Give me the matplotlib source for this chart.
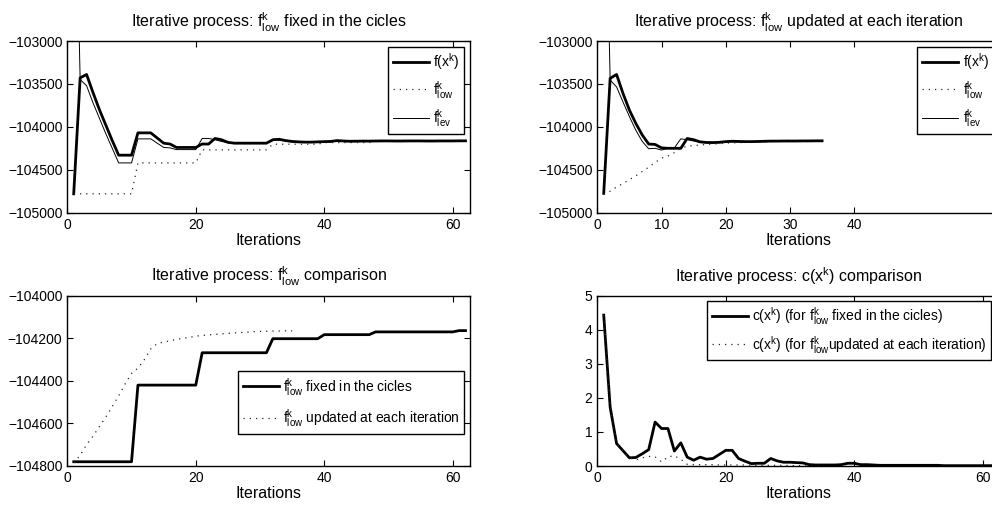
import matplotlib
matplotlib.use("Agg")
import matplotlib.pyplot as plt
import numpy as np

plt.rcParams['font.family'] = ['Liberation Sans', 'DejaVu Sans']
plt.rcParams['mathtext.fontset'] = 'custom'
plt.rcParams['mathtext.rm'] = 'Liberation Sans'
plt.rcParams['mathtext.it'] = 'Liberation Sans'

# --- data ---
it_fixed = np.arange(1, 63)
it_upd = np.arange(1, 36)

f_fixed = [-104780, -103430, -103390, -103600, -103800, -103980, -104160, -104330, -104330, -104330,
           -104070, -104070, -104070, -104130, -104190, -104200, -104240, -104240, -104240, -104240,
           -104200, -104200, -104135, -104150, -104180, -104190, -104190, -104190, -104190, -104190,
           -104190, -104150, -104145, -104160, -104170, -104175, -104178, -104178, -104175, -104172,
           -104170, -104160, -104165, -104168, -104167, -104166, -104166, -104165, -104164, -104164,
           -104165, -104165, -104164, -104164, -104164, -104165, -104165, -104164, -104164, -104164,
           -104163, -104163]
flev_fixed = [-100000, -103450, -103520, -103720, -103900, -104080, -104250, -104420, -104420, -104420,
              -104140, -104140, -104140, -104190, -104240, -104245, -104265, -104265, -104265, -104265,
              -104135, -104135, -104150, -104170, -104185, -104195, -104195, -104195, -104195, -104195,
              -104195, -104160, -104155, -104165, -104175, -104180, -104182, -104182, -104180, -104177,
              -104175, -104165, -104170, -104172, -104171, -104170, -104170, -104168, -104167, -104167,
              -104168, -104168, -104167, -104167, -104167, -104168, -104168, -104167, -104167, -104167,
              -104166, -104166]
flow_fixed = [-104780] * 10 + [-104420] * 10 + [-104268] * 11 + [-104202] * 8 + \
             [-104183] * 8 + [-104170] * 13 + [-104164] * 2

f_upd = [-104775, -103435, -103390, -103610, -103805, -103960, -104095, -104200, -104205, -104245,
         -104250, -104250, -104250, -104135, -104150, -104175, -104182, -104183, -104180, -104172,
         -104168, -104170, -104172, -104172, -104170, -104168, -104166, -104166, -104165, -104165,
         -104165, -104164, -104164, -104163, -104163]
flev_upd = [-100000, -103455, -103535, -103710, -103880, -104040, -104170, -104255, -104250, -104270,
            -104250, -104245, -104140, -104150, -104165, -104180, -104185, -104187, -104184, -104177,
            -104173, -104174, -104176, -104176, -104174, -104172, -104170, -104170, -104169, -104169,
            -104169, -104168, -104168, -104167, -104167]
flow_upd = [-104785, -104750, -104700, -104660, -104615, -104570, -104520, -104470, -104415, -104365,
            -104340, -104300, -104250, -104225, -104218, -104212, -104205, -104200, -104196, -104190,
            -104187, -104184, -104182, -104179, -104177, -104175, -104173, -104171, -104169, -104168,
            -104167, -104166, -104166, -104165, -104165]

c_fixed = [4.43, 1.73, 0.66, 0.45, 0.24, 0.25, 0.36, 0.48, 1.29, 1.10,
           1.10, 0.44, 0.68, 0.26, 0.17, 0.26, 0.20, 0.22, 0.34, 0.46,
           0.46, 0.22, 0.14, 0.07, 0.08, 0.08, 0.22, 0.15, 0.11, 0.11,
           0.10, 0.09, 0.04, 0.03, 0.03, 0.03, 0.03, 0.04, 0.08, 0.08,
           0.04, 0.04, 0.03, 0.02, 0.02, 0.02, 0.02, 0.02, 0.02, 0.02,
           0.02, 0.02, 0.02, 0.01, 0.01, 0.01, 0.01, 0.01, 0.01, 0.01,
           0.01, 0.01]
c_upd = [4.43, 1.73, 0.66, 0.45, 0.24, 0.18, 0.24, 0.28, 0.27, 0.12,
         0.27, 0.30, 0.20, 0.05, 0.04, 0.04, 0.04, 0.04, 0.03, 0.03,
         0.03, 0.03, 0.03, 0.02, 0.02, 0.02, 0.02, 0.02, 0.02, 0.01,
         0.01, 0.01, 0.01, 0.01, 0.01]

# --- styles ---
thick = dict(color='black', lw=2.0)
thin = dict(color='black', lw=0.7)
dotted = dict(color='0.15', lw=0.9, linestyle=(0, (1, 4)))

FLOW = r'f$^\mathrm{k}_\mathrm{low}$'
FLEV = r'f$^\mathrm{k}_\mathrm{lev}$'
FX = r'f(x$^\mathrm{k}$)'
CX = r'c(x$^\mathrm{k}$)'


def style_axes(ax):
    ax.tick_params(direction='in', top=True, right=True, length=4, labelsize=10, width=0.8)
    for s in ax.spines.values():
        s.set_linewidth(1.0)
    ax.set_xlabel('Iterations', fontsize=11.5, labelpad=1)


def legend(ax, spacing=0.3, **kw):
    lg = ax.legend(fontsize=10, fancybox=False, framealpha=1, edgecolor='black',
                   handlelength=2.6, handletextpad=0.3, borderpad=0.35, labelspacing=spacing,
                   borderaxespad=0, **kw)
    lg.get_frame().set_linewidth(1.0)
    return lg


fig = plt.figure(figsize=(9.92, 5.08), dpi=100)
W, H = 992.0, 508.0
aw = 402.7 / W

ax1 = fig.add_axes([67.3 / W, (H - 212.7) / H, aw, 171.7 / H])
ax2 = fig.add_axes([597.3 / W, (H - 212.7) / H, aw, 171.7 / H])
ax3 = fig.add_axes([67.3 / W, (H - 466.0) / H, aw, 170.3 / H])
ax4 = fig.add_axes([597.3 / W, (H - 466.0) / H, aw, 170.3 / H])

# top left
ax1.plot(it_fixed, f_fixed, label=FX, **thick)
ax1.plot(it_fixed, flow_fixed, label=FLOW, **dotted)
ax1.plot(it_fixed, flev_fixed, label=FLEV, **thin)
ax1.set_xlim(0, 62.7)
ax1.set_ylim(-105000, -103000)
ax1.set_xticks([0, 20, 40, 60])
ax1.set_yticks([-105000, -104500, -104000, -103500, -103000])
ax1.set_title('Iterative process: ' + FLOW + ' fixed in the cicles', fontsize=11.5, pad=10)
style_axes(ax1)
legend(ax1, spacing=0.45, loc='upper right', bbox_to_anchor=(0.986, 0.967))

# top right
ax2.plot(it_upd, f_upd, label=FX, **thick)
ax2.plot(it_upd, flow_upd, label=FLOW, **dotted)
ax2.plot(it_upd, flev_upd, label=FLEV, **thin)
ax2.set_xlim(0, 62.7)
ax2.set_ylim(-105000, -103000)
ax2.set_xticks([0, 10, 20, 30, 40])
ax2.set_yticks([-105000, -104500, -104000, -103500, -103000])
ax2.set_title('Iterative process: ' + FLOW + ' updated at each iteration', fontsize=11.5, pad=10)
style_axes(ax2)
legend(ax2, spacing=0.45, loc='upper left', bbox_to_anchor=(0.795, 0.967))

# bottom left
ax3.plot(it_fixed, flow_fixed, label=FLOW + ' fixed in the cicles', **thick)
ax3.plot(it_upd, flow_upd, label=FLOW + ' updated at each iteration', **dotted)
ax3.set_xlim(0, 62.7)
ax3.set_ylim(-104800, -104000)
ax3.set_xticks([0, 20, 40, 60])
ax3.set_yticks([-104800, -104600, -104400, -104200, -104000])
ax3.set_title('Iterative process: ' + FLOW + ' comparison', fontsize=11.5, pad=10)
style_axes(ax3)
legend(ax3, spacing=0.7, loc='lower right', bbox_to_anchor=(0.986, 0.188))

# bottom right
ax4.plot(it_fixed, c_fixed, label=CX + ' (for ' + FLOW + ' fixed in the cicles)', **thick)
ax4.plot(it_upd, c_upd, label=CX + ' (for ' + FLOW + 'updated at each iteration)', **dotted)
ax4.set_xlim(0, 62.7)
ax4.set_ylim(0, 5)
ax4.set_xticks([0, 20, 40, 60])
ax4.set_yticks([0, 1, 2, 3, 4, 5])
ax4.set_title('Iterative process: ' + CX + ' comparison', fontsize=11.5, pad=10)
style_axes(ax4)
legend(ax4, spacing=0.45, loc='upper left', bbox_to_anchor=(0.272, 0.971))

fig.savefig('out.png', dpi=100)
